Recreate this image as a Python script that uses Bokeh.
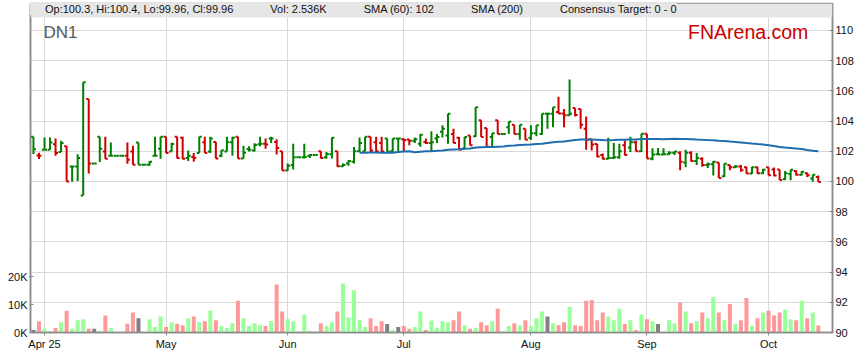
import numpy as np
import pandas as pd
from bokeh.plotting import figure
from bokeh.models import (Range1d, LinearAxis, FixedTicker, ColumnDataSource, Label,
                          BoxAnnotation, Legend, LegendItem)
from bokeh.embed import file_html
from bokeh.resources import INLINE

# ---------------- data ----------------
first_day = "2025-03-28"
last_day = "2025-10-14"
month_labels = ["Apr 25", "May", "Jun", "Jul", "Aug", "Sep", "Oct"]

opens = [102.97, 101.72, 102.11, 102.11, 102.46, 101.96, 102.33, 101.00, 101.00, 99.08,
         105.47, 101.19, 102.96, 101.99, 101.70, 101.70, 101.70, 101.70, 101.99, 102.58,
         101.11, 101.11, 101.71, 102.17, 102.96, 101.99, 102.97, 102.90, 101.55, 101.63,
         101.89, 102.60, 101.98, 102.62, 101.71, 101.98, 102.60, 102.97, 101.52, 102.15,
         102.05, 102.46, 102.50, 102.85, 102.62, 102.00, 100.73, 101.10, 101.60, 101.60,
         101.70, 101.75, 102.00, 101.60, 101.80, 102.00, 101.01, 101.20, 101.30, 102.00,
         102.00, 102.97, 102.60, 102.55, 102.84, 102.00, 102.84, 102.80, 102.78, 102.70,
         102.50, 102.62, 102.55, 102.84, 103.30, 103.05, 103.15, 102.90, 102.18, 103.05,
         103.00, 104.06, 103.55, 102.95, 104.06, 103.15, 103.60, 103.75, 103.15, 103.50,
         102.90, 103.20, 103.15, 104.48, 104.48, 104.60, 104.50, 104.38, 104.86, 104.80,
         103.49, 102.80, 102.49, 101.75, 101.50, 101.55, 101.60, 102.40, 102.25, 102.60,
         102.00, 103.17, 101.50, 101.80, 101.78, 101.80, 101.90, 101.90, 101.25, 101.90,
         101.35, 101.50, 101.10, 101.15, 101.25, 100.35, 101.10, 100.95, 101.00, 100.95,
         100.53, 100.95, 100.55, 100.95, 100.80, 100.80, 100.15, 100.50, 100.70, 100.45,
         100.55, 100.20, 100.3]
highs = [102.97, 101.91, 102.92, 102.92, 102.84, 102.70, 102.33, 101.00, 101.80, 106.57,
         105.47, 101.19, 102.96, 102.96, 102.58, 101.70, 101.70, 102.58, 102.36, 102.58,
         101.11, 101.35, 102.97, 102.96, 102.96, 102.57, 102.97, 102.97, 102.05, 101.89,
         102.97, 102.97, 102.97, 102.62, 102.07, 102.97, 102.97, 102.97, 102.37, 102.33,
         102.53, 102.97, 102.84, 102.97, 102.79, 102.00, 101.20, 102.50, 101.60, 102.50,
         101.80, 101.75, 102.00, 101.95, 102.92, 102.00, 101.20, 101.40, 102.28, 102.92,
         102.97, 102.97, 102.97, 102.97, 102.84, 102.84, 102.84, 102.84, 102.80, 102.92,
         103.15, 102.84, 103.32, 103.15, 103.72, 104.48, 103.50, 102.95, 102.95, 103.05,
         104.92, 104.06, 103.55, 103.20, 104.06, 103.15, 103.95, 103.75, 103.75, 103.50,
         103.72, 103.72, 104.48, 104.55, 104.92, 105.62, 104.80, 106.75, 104.86, 104.80,
         104.30, 102.80, 102.49, 101.85, 102.90, 102.55, 102.50, 102.72, 102.96, 102.70,
         103.17, 103.17, 102.20, 102.22, 102.20, 102.00, 102.00, 102.00, 102.10, 102.00,
         101.88, 101.60, 101.25, 101.35, 101.25, 101.20, 101.10, 101.10, 101.10, 100.97,
         100.97, 100.97, 100.85, 100.95, 100.93, 100.80, 100.70, 100.80, 100.75, 100.70,
         100.60, 100.45, 100.4]
lows = [101.82, 101.49, 102.11, 102.11, 101.71, 101.96, 100.00, 99.98, 100.03, 99.08,
        100.53, 101.19, 101.29, 101.50, 101.70, 101.70, 101.70, 101.17, 101.11, 101.11,
        101.11, 101.05, 101.71, 101.50, 101.89, 101.99, 101.52, 101.48, 101.35, 101.30,
        101.89, 101.89, 101.89, 101.52, 101.60, 101.98, 101.70, 101.52, 101.52, 101.98,
        101.98, 102.33, 102.17, 102.55, 101.78, 100.73, 100.70, 100.80, 101.60, 101.52,
        101.55, 101.75, 101.52, 101.50, 101.52, 100.97, 100.97, 101.05, 101.20, 101.95,
        101.98, 101.95, 101.95, 101.95, 101.98, 101.95, 102.00, 101.98, 102.40, 102.55,
        102.30, 102.48, 101.95, 102.55, 102.92, 102.50, 102.55, 102.10, 102.15, 102.40,
        102.95, 102.95, 102.30, 102.28, 103.15, 103.15, 103.15, 103.15, 102.77, 102.77,
        102.75, 103.00, 103.10, 103.50, 103.60, 104.48, 103.60, 104.35, 104.30, 103.50,
        102.10, 102.05, 101.60, 101.45, 101.48, 101.50, 101.50, 101.72, 101.95, 102.00,
        101.95, 101.52, 101.40, 101.75, 101.75, 101.75, 101.75, 100.75, 100.95, 101.30,
        101.10, 100.97, 100.90, 100.40, 100.24, 100.30, 100.75, 100.90, 100.65, 100.52,
        100.50, 100.50, 100.50, 100.42, 100.35, 100.10, 100.10, 100.08, 100.40, 100.40,
        100.30, 99.98, 99.96]
closes = [102.13, 101.70, 102.11, 102.59, 101.89, 102.55, 100.00, 101.00, 101.55, 106.57,
          101.19, 101.19, 102.17, 101.50, 101.70, 101.70, 101.70, 101.44, 101.11, 101.11,
          101.11, 101.30, 101.71, 102.96, 101.89, 102.48, 101.56, 101.50, 101.70, 101.55,
          102.97, 101.89, 102.84, 101.52, 102.07, 102.60, 102.90, 101.52, 101.90, 102.10,
          102.42, 102.50, 102.45, 102.84, 102.22, 100.73, 101.05, 101.60, 101.60, 101.62,
          101.75, 101.75, 101.55, 101.82, 102.90, 101.01, 101.10, 101.35, 102.00, 102.55,
          102.97, 102.05, 102.00, 101.98, 101.98, 102.84, 102.84, 102.75, 102.70, 102.80,
          103.10, 102.55, 102.60, 102.95, 103.50, 104.48, 102.55, 102.10, 102.95, 102.40,
          104.92, 102.95, 102.30, 103.20, 103.15, 103.15, 103.95, 103.15, 103.75, 102.77,
          103.20, 103.72, 104.48, 104.48, 104.92, 104.50, 104.38, 104.48, 104.40, 103.75,
          102.76, 102.45, 101.65, 101.50, 101.55, 101.60, 102.00, 101.75, 102.60, 102.00,
          103.17, 101.52, 101.78, 101.78, 101.80, 101.90, 101.98, 101.30, 101.90, 101.35,
          101.55, 101.10, 101.15, 101.30, 100.24, 101.18, 100.95, 101.00, 100.75, 100.53,
          100.95, 100.55, 100.78, 100.42, 100.40, 100.10, 100.55, 100.78, 100.45, 100.65,
          100.42, 100.45, 99.96]
volumes = [900, 4000, 1300, 350, 1600, 3700, 7800, 1300, 4400, 4700,
           1300, 1300, 600, 6100, 1600, 0, 0, 3100, 7100, 5100,
           0, 4700, 2000, 5700, 2000, 3700, 3100, 2600, 5100, 5700,
           3700, 4000, 7800, 4400, 2300, 1600, 3300, 11300, 5100, 2300,
           3300, 2600, 2300, 4000, 17100, 7500, 4700, 4000, 0, 6400,
           600, 0, 3300, 2300, 3700, 7500, 17500, 5400, 15100, 4400,
           2000, 5100, 2300, 4000, 3000, 900, 2000, 2300, 1300, 2000,
           7500, 900, 4300, 1700, 4000, 3700, 4400, 7500, 2600, 1300,
           1600, 3700, 2600, 4000, 8500, 0, 2300, 3300, 2600, 4400,
           2300, 5100, 7500, 5700, 3300, 2600, 3700, 9200, 2600, 2300,
           11300, 11600, 4400, 7100, 5700, 4400, 8500, 3000, 4400, 900,
           6400, 4700, 4000, 3000, 200, 4400, 3300, 10600, 7500, 3300,
           4000, 7100, 5100, 12600, 7100, 4400, 10200, 3000, 4400, 12300,
           2300, 5100, 7100, 7800, 6100, 7100, 8200, 4700, 4400, 11300,
           5100, 7100, 2536]
price_ticks = [90, 92, 94, 96, 98, 100, 102, 104, 106, 108, 110]
vol_ticks = [0, 10000, 20000]
vol_tick_labels = ["0K", "10K", "20K"]
sma_period = 60

# ---------------- derived ----------------
dates = pd.bdate_range(first_day, last_day)
n = len(closes)
idx = np.arange(n)
month_idx = [i for i in range(1, n) if dates[i].month != dates[i - 1].month]

GREEN, RED = "#008000", "#D00000"
price_col, vol_col = [], []
for i in range(n):
    if i == 0:
        price_col.append(GREEN); vol_col.append("#808080"); continue
    d = round(closes[i] - closes[i - 1], 4)
    price_col.append(GREEN if d >= 0 else RED)
    vol_col.append("#808080" if d == 0 else ("#99FF99" if d > 0 else "#FF9999"))

sma = pd.Series(closes).rolling(sma_period).mean()

tick = 0.45
src = ColumnDataSource(dict(x=idx, xl=idx - tick, xr=idx + tick, o=opens, h=highs, l=lows,
                            c=closes, col=price_col, vol=volumes, vcol=vol_col))

# ---------------- figure ----------------
# page has no body margin: frame x 30..832, y 3..332; price 90 at bottom, 15.1 px per unit
p = figure(width=858, height=352, output_backend="svg", toolbar_location=None,
           x_range=Range1d(-0.534, 144.57), y_range=Range1d(90, 111.788),
           y_axis_location="right", min_border_left=30, min_border_right=26,
           min_border_top=3, min_border_bottom=20)
p.background_fill_color = "white"
p.border_fill_color = "white"
p.outline_line_color = "#8a8a8a"
p.outline_line_width = 1.5
p.extra_y_ranges = {"vol": Range1d(0, 117500)}

# axes
px = p.xaxis[0]
px.ticker = FixedTicker(ticks=month_idx)
px.major_label_overrides = {mi: lab for mi, lab in zip(month_idx, month_labels)}
px.major_tick_in = 0
px.major_tick_out = 3
px.major_label_standoff = 2

py = p.yaxis[0]
py.ticker = FixedTicker(ticks=price_ticks)
py.major_tick_in = 3
py.major_tick_out = 1
py.major_label_standoff = 2

vax = LinearAxis(y_range_name="vol", ticker=FixedTicker(ticks=vol_ticks),
                 major_label_overrides={t: s for t, s in zip(vol_ticks, vol_tick_labels)})
vax.major_tick_in = 3
vax.major_tick_out = 1
vax.major_label_standoff = 2
p.add_layout(vax, "left")

for ax in (px, py, vax):
    ax.axis_line_color = "#8a8a8a"
    ax.axis_line_width = 1.5
    ax.major_tick_line_color = "#8a8a8a"
    ax.minor_tick_line_color = None
    ax.major_label_text_font = "Liberation Sans"
    ax.major_label_text_font_size = "11px"
    ax.major_label_text_color = "#111111"

p.xgrid.ticker = FixedTicker(ticks=month_idx)
p.ygrid.ticker = FixedTicker(ticks=price_ticks)
p.xgrid.grid_line_color = "#d9d9d9"
p.ygrid.grid_line_color = "#d9d9d9"

# glyphs
p.vbar(x="x", top="vol", bottom=0, width=0.72, fill_color="vcol", line_color=None,
       y_range_name="vol", source=src)
for x0, y0, x1, y1 in (("x", "l", "x", "h"), ("xl", "o", "x", "o"), ("x", "c", "xr", "c")):
    p.segment(x0=x0, y0=y0, x1=x1, y1=y1, line_color="col", line_width=2, source=src)
p.line(idx[sma_period - 1:], sma.values[sma_period - 1:], line_color="#1f6cae", line_width=2)

# legend band
p.add_layout(BoxAnnotation(bottom=110.86, fill_color="#e6e6e6", fill_alpha=1, line_color=None))
sw_cols = ["#CC0000", "#FF9999", "#0b66a8", "#800020", "#6b6b9b"]
sw = [p.quad(left=[], right=[], top=[], bottom=[], fill_color=c, line_color="#333333") for c in sw_cols]
labels = [f"Op:{opens[-1]}, Hi:{highs[-1]}, Lo:{lows[-1]}, Cl:{closes[-1]}",
          f"Vol: {volumes[-1] / 1000:.3f}K",
          f"SMA ({sma_period}): {sma.values[-1]:.0f}",
          "SMA (200)",
          "Consensus Target: 0 - 0"]
leg = Legend(items=[LegendItem(label=t, renderers=[r]) for t, r in zip(labels, sw)],
             orientation="horizontal", location="top_left", margin=0, padding=2, spacing=22,
             glyph_width=11, glyph_height=10, label_standoff=4, label_height=10,
             label_text_font="Liberation Sans", label_text_font_size="11px",
             label_text_color="#111111", background_fill_color="#e6e6e6",
             background_fill_alpha=1, border_line_color=None)
p.add_layout(leg)

p.add_layout(Label(x=1.8, y=109.87, text="DN1", text_font="Liberation Sans",
                   text_font_size="17px", text_color="#5a5a5a", text_baseline="middle"))
p.add_layout(Label(x=140.2, y=109.87, text="FNArena.com", text_font="Liberation Sans",
                   text_font_size="19.5px", text_color="#CC0000", text_baseline="middle",
                   text_align="right"))

open("out.html", "w").write(file_html(p, INLINE))
